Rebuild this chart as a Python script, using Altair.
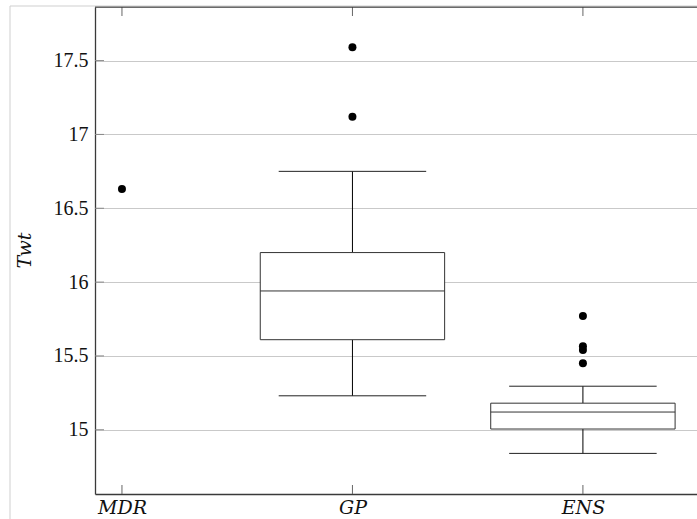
import altair as alt
import pandas as pd

# ---- data ----
categories = ["MDR", "GP", "ENS"]
lower_whisker = [None, 15.23, 14.84]
q1 = [None, 15.61, 15.005]
median = [None, 15.94, 15.12]
q3 = [None, 16.20, 15.18]
upper_whisker = [None, 16.75, 15.295]
outlier_cat = ["MDR", "GP", "GP", "ENS", "ENS", "ENS", "ENS"]
outlier_val = [16.63, 17.59, 17.12, 15.77, 15.565, 15.54, 15.45]
y_ticks = [15, 15.5, 16, 16.5, 17, 17.5]
y_title = "Twt"

# ---- layout / style constants ----
W, H = 602, 487
BOX_HALF = 0.4
CAP_HALF = 0.32
TICK = 9
SERIF = "'Liberation Serif', 'DejaVu Serif', serif"
ITALIC = "'DejaVu Serif', 'Liberation Serif', serif"

pos = {c: i + 1 for i, c in enumerate(categories)}

box = pd.DataFrame({
    "cat": categories, "lo": lower_whisker, "q1": q1, "med": median,
    "q3": q3, "hi": upper_whisker,
}).dropna()
box["pos"] = box["cat"].map(pos).astype(float)

out = pd.DataFrame({"cat": outlier_cat, "val": outlier_val})
out["pos"] = out["cat"].map(pos).astype(float)

cats = pd.DataFrame({"cat": categories, "pos": [float(pos[c]) for c in categories]})
ticks = pd.DataFrame({"val": y_ticks})
one = pd.DataFrame({"k": [0]})

xscale = alt.Scale(domain=[0.883, 3.495], nice=False, zero=False)
yscale = alt.Scale(domain=[14.565, 17.863], nice=False, zero=False)

label_expr = "[" + ",".join(f"'{c}'" for c in categories) + "][datum.value - 1]"

xaxis = alt.Axis(
    values=[float(pos[c]) for c in categories], labelExpr=label_expr, title=None,
    grid=False, ticks=False, tickSize=0, domainColor="#3a3a3a", domainWidth=1.3,
    labelFont=ITALIC, labelFontStyle="italic", labelFontSize=19, labelColor="#111",
    labelPadding=4,
)
yaxis = alt.Axis(
    values=y_ticks, format="~g", title=y_title, grid=True, gridColor="#c9c9c9",
    gridWidth=1, ticks=False, tickSize=0, domainColor="#3a3a3a", domainWidth=1.3,
    labelFont=SERIF, labelFontSize=20, labelColor="#111", labelPadding=7,
    titleFont=ITALIC, titleFontStyle="italic", titleFontWeight="normal",
    titleFontSize=19, titleColor="#111", titleX=-71, titleY=243,
    titleAngle=270, titleAlign="center", titleBaseline="middle",
)


def X(field):
    return alt.X(field, type="quantitative", scale=xscale, axis=xaxis)


def Y(field):
    return alt.Y(field, type="quantitative", scale=yscale, axis=yaxis)


boxbase = alt.Chart(box).transform_calculate(
    bx0=f"datum.pos - {BOX_HALF}", bx1=f"datum.pos + {BOX_HALF}",
    cx0=f"datum.pos - {CAP_HALF}", cx1=f"datum.pos + {CAP_HALF}",
)

upper_stem = boxbase.mark_rule(color="black", strokeWidth=1).encode(
    x=X("pos"), y=Y("q3"), y2="hi")
lower_stem = boxbase.mark_rule(color="black", strokeWidth=1).encode(
    x=X("pos"), y=Y("lo"), y2="q1")
upper_cap = boxbase.mark_rule(color="#222", strokeWidth=1).encode(
    x=X("cx0:Q"), x2="cx1:Q", y=Y("hi"))
lower_cap = boxbase.mark_rule(color="#222", strokeWidth=1).encode(
    x=X("cx0:Q"), x2="cx1:Q", y=Y("lo"))
rect = boxbase.mark_rect(fill="white", stroke="#333", strokeWidth=1).encode(
    x=X("bx0:Q"), x2="bx1:Q", y=Y("q1"), y2="q3")
med = boxbase.mark_rule(color="#333", strokeWidth=1).encode(
    x=X("bx0:Q"), x2="bx1:Q", y=Y("med"))

pts = alt.Chart(out).mark_point(filled=True, color="black", size=64, opacity=1).encode(
    x=X("pos"), y=Y("val"))

# inside tick marks (pgfplots style)
top_ticks = alt.Chart(cats).mark_rule(color="#666", strokeWidth=1).encode(
    x=X("pos"), y=alt.value(0), y2=alt.value(TICK))
bot_ticks = alt.Chart(cats).mark_rule(color="#666", strokeWidth=1).encode(
    x=X("pos"), y=alt.value(H - TICK), y2=alt.value(H))
left_ticks = alt.Chart(ticks).mark_rule(color="#888", strokeWidth=1).encode(
    y=Y("val"), x=alt.value(0), x2=alt.value(TICK))

# frame top line and faint page border
top_line = alt.Chart(one).mark_rule(color="#3a3a3a", strokeWidth=1.3).encode(
    x=alt.value(0), x2=alt.value(W), y=alt.value(0))
page_left = alt.Chart(one).mark_rule(color="#cfcfcf", strokeWidth=1).encode(
    x=alt.value(-85), y=alt.value(-1), y2=alt.value(H + 30))
page_top = alt.Chart(one).mark_rule(color="#cfcfcf", strokeWidth=1).encode(
    x=alt.value(-85), x2=alt.value(W), y=alt.value(-1))

chart = alt.layer(
    upper_stem, lower_stem, upper_cap, lower_cap, rect, med, pts,
    top_ticks, bot_ticks, left_ticks, top_line, page_left, page_top,
).properties(
    width=W, height=H,
    autosize=alt.AutoSizeParams(type="none"),
    padding={"left": 95, "top": 7, "right": 0, "bottom": 25},
    background="white",
).configure_view(stroke=None)

chart.save("out.html", embed_options={"renderer": "svg", "actions": False})
